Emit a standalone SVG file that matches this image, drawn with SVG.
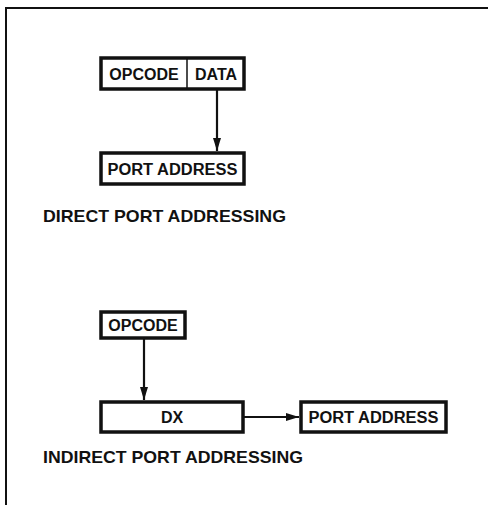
<svg xmlns="http://www.w3.org/2000/svg" width="488" height="505" viewBox="0 0 488 505">
<style>
.box{fill:#fff;stroke:#111;stroke-width:3.5}
.t{font-family:"Liberation Sans",Arial,sans-serif;font-weight:bold;font-size:16px;fill:#111}
.cap{font-family:"Liberation Sans",Arial,sans-serif;font-weight:bold;font-size:17px;fill:#111}
.ln{stroke:#111;stroke-width:2.2;fill:none}
</style>
<defs>
<marker id="ah" markerWidth="13" markerHeight="9" refX="13" refY="4.5" orient="auto" markerUnits="userSpaceOnUse">
<path d="M0,0.5 L13,4.5 L0,8.5 Z" fill="#111"/>
</marker>
</defs>
<rect width="488" height="505" fill="#fff"/>
<g id="frame">
<path d="M6,505 L6,8 L488,8" fill="none" stroke="#111" stroke-width="2"/>
</g>
<g id="connectors">
<line class="ln" x1="217" y1="90" x2="217" y2="151" marker-end="url(#ah)"/>
<line class="ln" x1="144" y1="338" x2="144" y2="400" marker-end="url(#ah)"/>
<line class="ln" x1="244" y1="417" x2="299" y2="417" marker-end="url(#ah)"/>
</g>
<g id="opcode-data">
<rect class="box" x="101" y="58" width="143" height="31"/>
<line x1="187" y1="58" x2="187" y2="89" stroke="#111" stroke-width="1.5"/>
<text class="t" x="144" y="79.5" text-anchor="middle">OPCODE</text>
<text class="t" x="216" y="79.5" text-anchor="middle">DATA</text>
</g>
<g id="port-address-1">
<rect class="box" x="101" y="153" width="143" height="31"/>
<text class="t" x="172.5" y="174.5" text-anchor="middle" textLength="130" lengthAdjust="spacingAndGlyphs">PORT ADDRESS</text>
</g>
<text class="cap" x="43" y="222" textLength="243" lengthAdjust="spacingAndGlyphs">DIRECT PORT ADDRESSING</text>
<g id="opcode-2">
<rect class="box" x="101" y="312" width="84" height="26"/>
<text class="t" x="143" y="331" text-anchor="middle">OPCODE</text>
</g>
<g id="dx">
<rect class="box" x="101" y="402" width="142" height="30"/>
<text class="t" x="172" y="423" text-anchor="middle">DX</text>
</g>
<g id="port-address-2">
<rect class="box" x="301" y="402" width="145" height="30"/>
<text class="t" x="373.5" y="423" text-anchor="middle" textLength="130" lengthAdjust="spacingAndGlyphs">PORT ADDRESS</text>
</g>
<text class="cap" x="43" y="463" textLength="260" lengthAdjust="spacingAndGlyphs">INDIRECT PORT ADDRESSING</text>
</svg>
